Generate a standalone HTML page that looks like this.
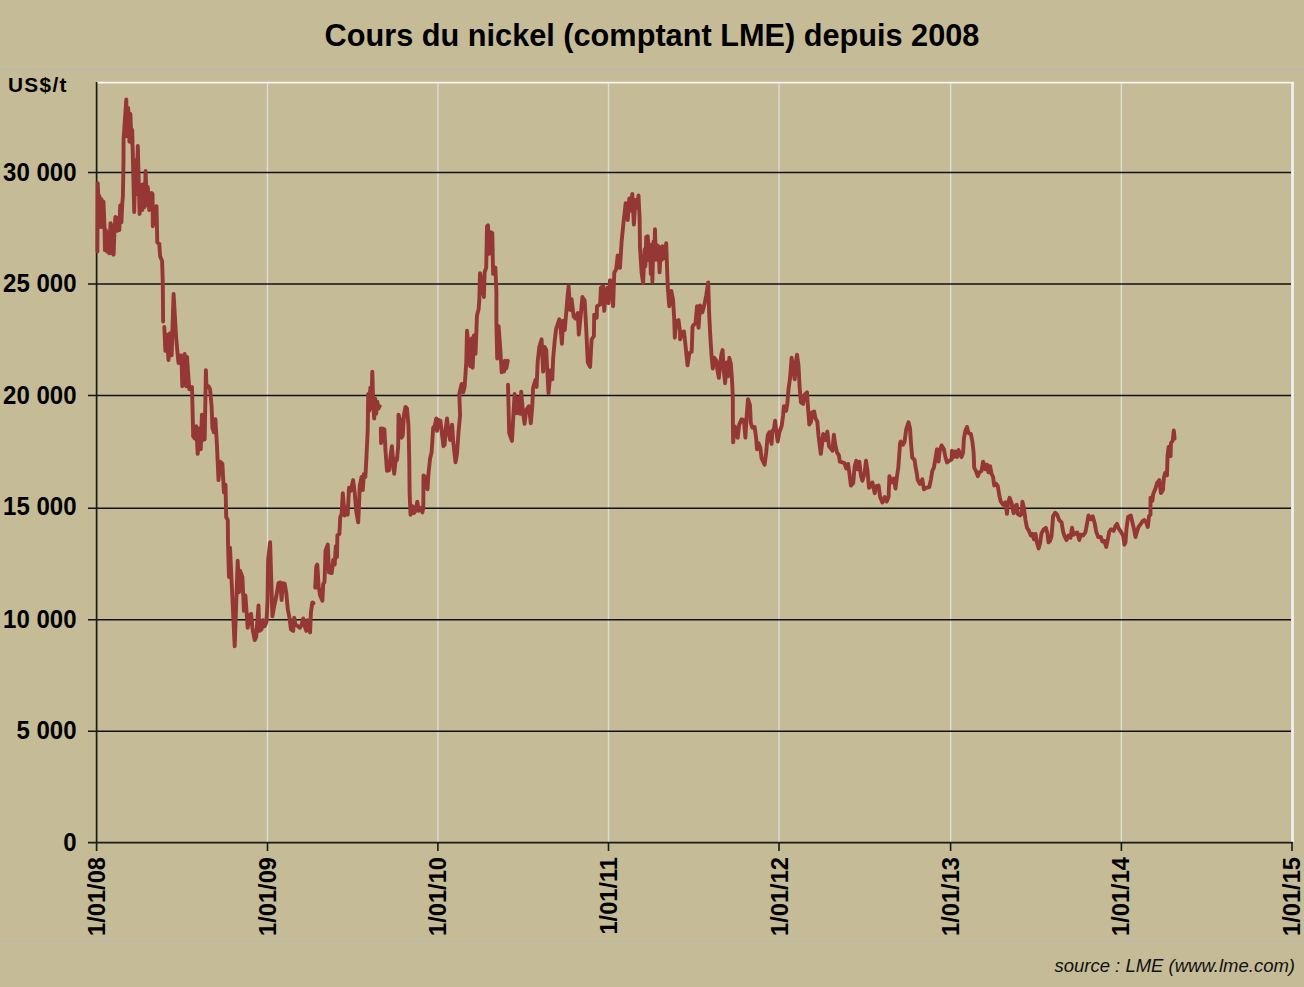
<!DOCTYPE html>
<html><head><meta charset="utf-8"><title>Cours du nickel</title>
<style>
html,body{margin:0;padding:0;}
body{width:1304px;height:987px;background:#c5bc97;overflow:hidden;position:relative;font-family:"Liberation Sans",sans-serif;color:#000;}
svg{position:absolute;left:0;top:0;}
.title{position:absolute;left:0;top:17.5px;width:1304px;text-align:center;font-weight:bold;font-size:30.7px;line-height:36px;letter-spacing:0px;white-space:nowrap;}
.yl{position:absolute;left:0;width:76.5px;text-align:right;font-weight:bold;font-size:24px;line-height:28px;height:28px;white-space:nowrap;transform:scaleY(1.05);transform-origin:50% 50%;}
.unit{position:absolute;left:7.9px;top:72.7px;font-weight:bold;font-size:20.8px;line-height:24px;letter-spacing:1.35px;}
.xl{position:absolute;font-weight:bold;font-size:23.65px;line-height:28px;height:28px;width:100px;text-align:right;white-space:nowrap;transform-origin:0 0;transform:rotate(-90deg) scaleY(1.05);}
.src{position:absolute;right:9px;font-style:italic;font-size:18.5px;line-height:22px;color:#111;top:954.5px;white-space:nowrap;}
</style></head><body>

<svg width="1304" height="987" viewBox="0 0 1304 987">
<rect x="0" y="69.1" width="1304" height="1.6" fill="#bcb9ab"/>
<rect x="0" y="940.6" width="1304" height="1.6" fill="#bcb9ab"/>
<line x1="267.5" y1="82" x2="267.5" y2="842" stroke="#dddcd6" stroke-width="1.4"/>
<line x1="437.9" y1="82" x2="437.9" y2="842" stroke="#dddcd6" stroke-width="1.4"/>
<line x1="608.5" y1="82" x2="608.5" y2="842" stroke="#dddcd6" stroke-width="1.4"/>
<line x1="779.0" y1="82" x2="779.0" y2="842" stroke="#dddcd6" stroke-width="1.4"/>
<line x1="950.6" y1="82" x2="950.6" y2="842" stroke="#dddcd6" stroke-width="1.4"/>
<line x1="1121.4" y1="82" x2="1121.4" y2="842" stroke="#dddcd6" stroke-width="1.4"/>
<line x1="88" y1="731.3" x2="1291" y2="731.3" stroke="#111" stroke-width="1.5"/>
<line x1="88" y1="619.7" x2="1291" y2="619.7" stroke="#111" stroke-width="1.5"/>
<line x1="88" y1="508.3" x2="1291" y2="508.3" stroke="#111" stroke-width="1.5"/>
<line x1="88" y1="395.5" x2="1291" y2="395.5" stroke="#111" stroke-width="1.5"/>
<line x1="88" y1="283.9" x2="1291" y2="283.9" stroke="#111" stroke-width="1.5"/>
<line x1="88" y1="172.5" x2="1291" y2="172.5" stroke="#111" stroke-width="1.5"/>
<line x1="97" y1="82.6" x2="1293.9" y2="82.6" stroke="#f6f5f2" stroke-width="1.6"/>
<line x1="1292.55" y1="82" x2="1292.55" y2="842" stroke="#f2f1ee" stroke-width="2.7"/>
<line x1="96.6" y1="82" x2="96.6" y2="851" stroke="#1a1a17" stroke-width="1.7"/>
<line x1="88" y1="842.7" x2="1292.6" y2="842.7" stroke="#1a1a17" stroke-width="1.7"/>
<line x1="267.5" y1="842" x2="267.5" y2="851" stroke="#1a1a17" stroke-width="1.6"/>
<line x1="437.9" y1="842" x2="437.9" y2="851" stroke="#1a1a17" stroke-width="1.6"/>
<line x1="608.5" y1="842" x2="608.5" y2="851" stroke="#1a1a17" stroke-width="1.6"/>
<line x1="779.0" y1="842" x2="779.0" y2="851" stroke="#1a1a17" stroke-width="1.6"/>
<line x1="950.6" y1="842" x2="950.6" y2="851" stroke="#1a1a17" stroke-width="1.6"/>
<line x1="1121.4" y1="842" x2="1121.4" y2="851" stroke="#1a1a17" stroke-width="1.6"/>
<line x1="1292.0" y1="842" x2="1292.0" y2="851" stroke="#1a1a17" stroke-width="1.6"/>
<polyline fill="none" stroke="#953735" stroke-width="3.9" stroke-linejoin="round" stroke-linecap="round" points="97.4,251.6 97.7,183.1 98.3,196.2 98.6,227.0 99.5,196.2 100.5,227.0 101.5,199.3 102.3,227.0 103.5,201.6 104.5,227.0 104.9,250.1 105.9,230.1 107.2,251.6 108.2,233.1 109.2,253.2 110.5,223.1 111.6,253.2 112.5,225.4 113.6,254.7 114.6,227.0 115.4,217.0 116.5,219.3 117.4,230.8 118.2,217.7 119.3,230.1 120.2,205.4 121.4,222.4 122.3,203.1 122.9,196.2 123.5,161.0 123.6,139.0 126.3,99.5 126.9,136.0 128.2,108.0 129.4,141.6 130.4,114.0 131.5,143.0 132.2,130.0 134.2,212.0 135.5,160.0 136.4,194.0 137.8,146.0 139.6,214.0 141.4,185.0 142.4,210.0 143.7,184.0 144.6,207.0 145.6,171.0 146.9,205.0 147.8,187.0 149.2,210.0 151.5,193.0 152.6,194.0 152.8,226.2 155.4,207.0 156.5,206.2 157.3,242.4 159.3,243.9 160.1,256.2 162.1,260.9 162.8,282.4 163.1,321.6"/>
<polyline fill="none" stroke="#953735" stroke-width="3.9" stroke-linejoin="round" stroke-linecap="round" points="164.3,327.0 165.4,350.8 166.9,334.7 168.5,360.1 170.0,333.1 171.6,355.4 173.6,293.9 176.2,338.5 178.5,363.1 180.8,355.4 181.6,361.6 182.3,386.2 184.6,353.9 186.2,386.2 187.0,357.0 189.3,389.3 192.0,387.0 193.1,432.0 193.1,436.2 194.7,438.5 196.2,426.2 197.7,453.9 199.3,428.5 200.8,449.3 201.9,414.6 203.1,440.0 204.7,439.3 205.9,370.1 206.5,387.8 208.5,386.2 210.1,389.3 211.6,406.3 212.4,427.8 213.9,432.3 215.4,419.2 217.0,446.2 218.5,480.1 220.1,461.6 222.4,463.9 223.9,492.4 225.5,484.7 226.2,517.0 227.8,520.1 228.0,543.1 229.0,577.0 230.0,547.7 234.7,646.3 237.7,560.8 239.0,592.4 240.0,570.8 242.4,577.0 243.9,610.8 245.4,595.4 247.7,627.8 249.3,615.5 251.1,613.9 252.4,627.8 254.7,640.1 256.2,637.0 257.8,615.5 258.5,605.5 259.3,630.9 261.6,629.3 263.1,620.1 264.7,626.2 266.5,621.6 267.5,601.6 268.1,560.0 270.1,542.3 272.4,616.2 274.2,606.2 276.2,597.0 278.5,583.1 280.4,582.4 281.6,600.1 282.8,583.1 284.7,583.9 286.2,592.4 287.8,609.3 289.6,618.5 290.9,629.3 293.2,630.9 294.2,617.8 295.5,624.7 297.8,626.2 299.8,627.8 301.6,624.7 303.2,618.5 304.7,626.2 306.3,630.9 307.5,620.1 310.1,632.4 310.9,612.4 312.4,602.4 313.5,603.1"/>
<polyline fill="none" stroke="#953735" stroke-width="3.9" stroke-linejoin="round" stroke-linecap="round" points="315.2,587.7 316.3,566.2 317.3,564.6 318.6,586.2 320.1,595.4 322.4,600.8 323.2,583.9 324.4,582.4 324.7,577.0 325.5,550.8 327.8,544.6 329.0,572.3 331.7,573.1 333.2,560.0 334.7,564.6 335.8,546.2 337.0,557.0 337.4,535.4 339.4,533.9 340.1,520.0 340.3,517.0 341.6,513.9 342.8,493.1 344.6,515.5 346.2,507.8 347.7,514.7 349.0,487.8 350.8,490.8 353.1,480.1 354.7,492.4 356.2,510.9 358.2,522.4 359.3,498.5 359.7,486.2 361.6,477.0 362.8,490.1 363.9,473.9 365.4,477.0 366.2,461.6 367.7,430.8 368.2,393.9 369.3,410.9 370.3,387.8 371.3,407.8 372.3,371.6 373.3,406.2 374.2,418.6 375.1,398.5 376.2,413.9 377.3,401.6 378.5,408.5 379.7,406.2"/>
<polyline fill="none" stroke="#953735" stroke-width="3.9" stroke-linejoin="round" stroke-linecap="round" points="380.8,428.5 381.1,443.1 382.4,428.5 384.4,429.3 385.5,450.8 387.0,470.8 389.3,470.1 390.8,453.9 391.9,446.2 393.1,461.6 394.2,473.9 395.8,458.5 397.0,460.0 398.2,446.2 398.5,414.6 400.1,420.0 401.6,437.7 402.8,435.4 403.9,415.4 405.5,406.9 407.0,408.5 408.5,426.2 409.3,461.6 409.6,492.4 410.5,514.7 412.4,506.2 413.9,513.2 415.5,510.9 417.3,501.6 418.6,510.9 420.9,507.8 422.4,512.4 423.3,507.8 423.5,475.4 425.5,477.0 427.5,489.3 428.6,472.4 430.1,458.5 431.6,452.3 433.2,427.7 434.7,426.2 436.3,418.5 437.0,430.8 438.6,420.0 440.4,420.8 441.6,430.8 443.5,446.2 444.7,444.6 445.5,430.8 447.0,418.5 448.6,432.3 450.1,440.0 452.1,424.6 453.2,441.6 455.5,462.4 457.0,453.9 458.6,430.8 460.1,415.4 459.3,393.9 461.6,383.9 463.2,392.4 464.7,386.2 466.3,361.6 467.0,330.8 468.6,346.2 470.1,366.2 471.6,338.5 472.7,367.7 473.9,335.4 475.5,353.9 477.0,315.4 478.6,309.2 479.3,300.0 480.0,273.1 481.9,286.2 483.9,297.0 484.6,272.4 486.2,267.7 487.0,226.2 488.0,225.4 489.3,253.9 491.1,232.3 492.3,233.1 493.1,273.9 495.4,267.7 496.4,292.4 496.4,323.1 497.2,358.5 498.6,326.2 500.1,346.2 501.7,372.4 502.9,361.6 504.0,371.6 505.1,360.8 506.3,368.5 507.8,360.8"/>
<polyline fill="none" stroke="#953735" stroke-width="3.9" stroke-linejoin="round" stroke-linecap="round" points="508.0,384.7 509.2,433.2 512.0,440.9 513.5,413.2 514.6,393.9 516.6,413.2 518.2,397.8 520.0,413.9 521.2,391.6 523.1,413.2 524.6,423.9 526.2,410.1 528.9,406.2 530.8,423.2 532.3,406.2 533.1,387.8 535.4,380.1 536.6,387.0 537.7,361.6 539.3,347.0 541.6,339.3 543.1,371.6 544.6,347.0 546.2,350.0 548.5,393.2 550.8,370.1 552.3,379.3 553.1,359.3 554.7,340.8 556.2,328.5 559.3,319.3 560.8,330.0 561.9,343.9 563.1,320.8 564.7,330.0 566.2,313.1 567.7,294.6 568.6,286.2 570.1,310.0 571.6,299.2 573.6,316.2 575.4,318.5 577.8,313.1 578.8,334.6 580.8,314.6 582.4,296.9 584.7,300.8 586.2,328.5 587.8,362.4 590.1,367.0 591.6,339.3 593.9,336.2 594.2,314.6 596.7,317.7 597.0,306.2 600.1,304.6 600.8,290.0 600.8,287.8 603.1,286.2 604.2,310.9 605.4,297.0 607.2,287.8 608.5,303.2 610.0,280.1 611.6,281.6 613.1,306.3 614.3,272.4 616.2,269.3 617.7,255.4 620.0,267.8 621.6,241.6 623.6,221.6 625.7,203.1 627.7,220.0 629.3,198.5 630.8,210.8 632.3,193.9 633.9,224.6 635.4,200.0 637.0,207.7 638.5,195.4 639.6,218.5 640.0,247.7 641.6,272.4 643.1,283.2 644.7,249.3 645.4,266.2 646.2,237.0 647.0,260.1 647.7,236.2 649.3,257.0 650.0,244.7 650.8,273.9 651.6,247.7 652.4,281.6 653.4,241.6 654.2,260.1 655.0,229.3 655.7,257.0 656.5,244.7 657.7,260.1 658.5,246.2 659.6,272.4 660.8,247.7 661.6,260.1 662.4,246.2 663.3,258.5 664.2,249.3 665.1,257.0 666.2,243.1 667.0,266.2 667.8,287.8 669.3,306.3 671.3,290.9 673.1,300.1 674.2,318.6 674.8,337.7 676.2,321.6 678.5,320.1 680.1,332.0 680.1,339.3 682.4,332.3 684.0,331.6 685.5,345.4 687.5,365.4 689.4,353.1 691.7,351.6 692.5,327.0 693.2,325.5 695.5,323.2 697.0,306.3 698.5,327.8 700.1,305.5 702.4,312.4 704.7,303.2 706.2,295.5 708.2,282.4 709.2,314.6 710.3,336.2 711.6,356.2 712.8,368.5 714.3,357.8 716.5,360.8 717.4,370.1 718.9,377.8 720.5,362.4 721.3,354.7 722.6,350.1 723.6,368.5 725.1,383.2 726.6,362.4 728.2,376.2 729.3,357.8 730.8,363.9 731.9,377.8 732.8,396.3 732.9,426.2 733.2,442.4 734.6,426.2 736.2,429.3 737.7,437.7 739.2,424.6 741.6,419.3 743.9,420.0 745.4,437.7 746.5,418.5 748.0,399.2 750.0,405.4 750.8,423.1 752.3,427.7 754.6,427.0 756.2,438.5 757.0,449.3 758.5,443.1 760.3,447.7 761.6,458.5 764.6,464.7 766.2,452.4 767.7,435.4 769.3,432.3 771.6,443.9 772.3,430.8 773.9,429.3 775.1,420.8 776.2,430.8 777.7,441.6 779.3,432.3 781.6,426.2 783.1,415.4 783.9,406.2 786.2,410.8 787.4,403.1 788.5,389.2 790.1,377.8 791.6,357.8 793.2,368.5 794.7,379.3 795.9,362.4 797.0,354.7 798.5,365.5 799.6,387.0 800.9,402.4 803.1,403.9 804.7,394.6 807.0,392.3 807.8,404.6 809.3,424.6 811.1,421.6 812.1,412.3 814.2,411.6 815.5,418.5 817.3,421.6 818.5,435.4 820.8,453.9 822.4,441.6 823.2,433.9 825.5,440.0 827.3,431.6 829.0,446.2 830.9,448.5 832.4,450.8 833.9,434.7 835.5,446.2 837.0,452.4 838.9,455.4 839.8,461.6 842.4,462.4 844.4,463.1 846.3,468.5 848.1,463.9 849.3,472.4 850.9,485.5 853.2,483.2 854.7,466.2 856.3,460.8 857.8,469.3 859.3,461.6 860.9,475.5 862.4,480.8 864.7,472.4 866.0,460.8 867.5,470.8 869.0,487.8 870.9,486.2 872.4,482.4 874.7,493.2 876.3,486.2 878.6,485.5 880.1,497.0 882.4,502.4 884.7,497.0 886.6,501.6 888.6,497.0 889.4,476.2 891.7,482.4 893.7,478.5 895.5,488.5 897.1,475.5 898.3,467.8 900.1,443.1 900.8,441.6 903.1,444.6 904.6,441.6 906.2,429.3 908.5,422.3 910.0,428.5 911.1,444.6 912.3,457.7 914.6,460.0 915.4,466.2 916.9,473.9 917.7,480.1 920.0,483.9 922.3,479.3 923.9,489.3 926.2,487.8 929.3,487.0 930.8,480.1 932.3,470.8 933.9,467.7 935.4,458.5 937.0,449.3 938.5,461.6 939.7,450.8 941.6,445.4 943.9,449.3 945.4,457.0 947.0,462.4 949.3,460.8 951.6,459.3 952.0,450.8 953.9,457.0 955.4,451.6 957.0,457.0 958.5,450.0 960.4,455.4 961.6,457.0 963.1,452.3 963.9,438.5 965.4,430.8 967.0,426.9 968.5,433.1 970.8,433.9 972.4,441.6 973.6,452.3 974.2,467.7 976.2,471.6 977.8,476.2 979.3,472.4 981.6,470.8 983.1,461.6 985.5,469.3 987.0,464.7 988.5,472.4 990.1,466.2 991.6,473.9 993.1,477.0 994.2,485.5 996.2,483.9 997.8,486.2 999.3,495.5 1000.8,501.6 1003.2,504.7 1005.5,502.4 1007.0,513.9 1007.8,504.7 1009.6,497.8 1011.6,503.2 1013.6,513.2 1015.2,506.2 1016.7,504.7 1017.8,513.9 1020.1,515.5 1021.6,513.9 1022.4,501.6 1023.9,507.8 1025.5,520.1 1027.0,527.8 1029.0,530.9 1030.9,535.5 1032.4,533.9 1033.9,539.3 1035.5,533.9 1036.7,541.6 1038.6,548.6 1040.1,543.2 1041.5,533.2 1043.8,529.3 1045.9,527.8 1047.4,533.2 1048.5,542.4 1050.0,540.9 1051.5,536.3 1053.1,516.2 1055.1,512.8 1057.2,514.7 1059.2,520.1 1061.6,522.4 1063.1,531.6 1064.6,536.3 1066.5,540.1 1068.5,535.5 1070.5,537.8 1072.0,527.8 1073.6,534.7 1075.4,533.2 1077.3,532.4 1079.3,540.1 1080.8,534.7 1083.1,535.5 1085.4,532.4 1087.0,523.9 1088.5,515.5 1090.8,519.3 1092.7,516.2 1094.7,523.2 1096.2,531.6 1098.2,537.0 1100.8,537.0 1102.4,541.6 1104.4,540.9 1106.2,547.0 1107.7,540.1 1109.3,531.6 1111.1,529.3 1113.6,530.9 1115.4,526.2 1117.0,523.9 1118.8,528.6 1120.8,531.6 1123.1,535.5 1124.4,544.7 1125.5,542.4 1126.5,528.6 1128.1,517.0 1130.8,515.5 1132.4,522.4 1133.9,528.6 1135.5,537.0 1137.0,531.6 1138.5,527.0 1140.8,523.9 1142.8,520.9 1144.4,520.1 1146.2,522.4 1147.8,527.0 1149.0,516.2 1150.5,514.7 1150.5,497.8 1152.4,500.8 1153.2,493.9 1155.5,488.5 1157.0,483.1 1159.3,480.1 1160.9,493.1 1162.9,490.1 1163.9,477.7 1165.0,473.1 1167.0,475.4 1167.5,456.2 1168.6,447.0 1170.6,456.2 1170.9,443.1 1172.7,440.8 1173.8,430.5 1174.6,438.5"/>
</svg>
<div class="title">Cours du nickel (comptant LME) depuis 2008</div>
<div class="unit">US$/t</div>
<div class="yl" style="top:829.0px">0</div>
<div class="yl" style="top:717.4px">5 000</div>
<div class="yl" style="top:605.9px">10 000</div>
<div class="yl" style="top:493.1px">15 000</div>
<div class="yl" style="top:381.7px">20 000</div>
<div class="yl" style="top:270.2px">25 000</div>
<div class="yl" style="top:158.7px">30 000</div>
<div class="xl" style="left:81.9px;top:957px">1/01/08</div>
<div class="xl" style="left:252.6px;top:957px">1/01/09</div>
<div class="xl" style="left:423.4px;top:957px">1/01/10</div>
<div class="xl" style="left:594.1px;top:957px">1/01/11</div>
<div class="xl" style="left:764.9px;top:957px">1/01/12</div>
<div class="xl" style="left:935.6px;top:957px">1/01/13</div>
<div class="xl" style="left:1106.3px;top:957px">1/01/14</div>
<div class="xl" style="left:1277.1px;top:957px">1/01/15</div>
<div class="src">source : LME (www.lme.com)</div>
</body></html>
